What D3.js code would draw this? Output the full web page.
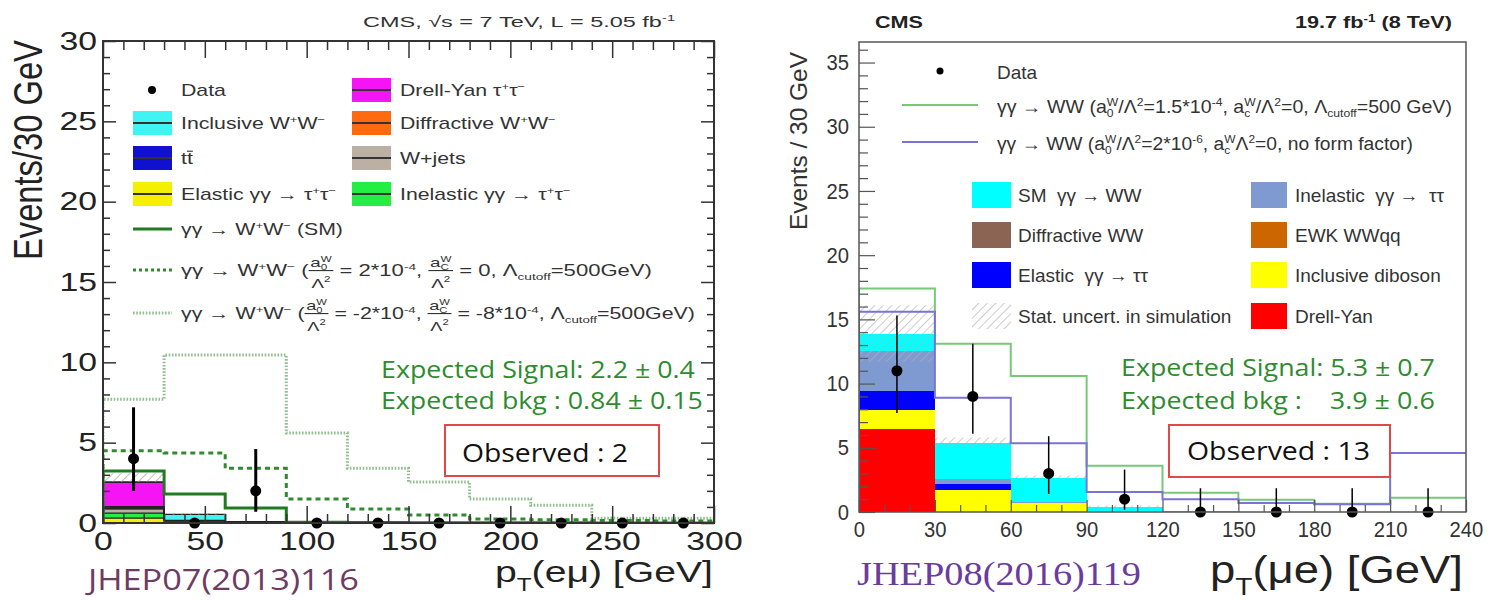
<!DOCTYPE html>
<html><head><meta charset="utf-8">
<script src="https://cdn.jsdelivr.net/npm/d3@7"></script>
<style>body{margin:0;background:#fff}svg{display:block}</style>
</head><body>
<svg id="c" width="1490" height="600"></svg>
<script>
// ================= DATA: left panel (JHEP07(2013)116) =================
const binsL = [0,30,60,90,120,150,180,210,240,270,300];
const xTicksL = [0,50,100,150,200,250,300];
const yTicksL = [0,5,10,15,20,25,30];
const elasticL   = [0.30,0,0,0,0,0,0,0,0,0];
const inelasticL = [0.32,0,0,0,0,0,0,0,0,0];
const wjetsL     = [0.26,0.12,0.04,0,0,0,0,0,0,0];
const diffWWL    = [0.02,0.01,0,0,0,0,0,0,0,0];
const ttbarL     = [0.12,0.03,0.03,0,0,0,0,0,0,0];
const drellYanL  = [1.53,0,0,0,0,0,0,0,0,0];
const inclWWL    = [0,0.38,0.02,0,0,0,0,0,0,0];
const uncLoL     = [2.55,0.50,null,null,null,null,null,null,null,null];
const uncHiL     = [3.10,0.62,null,null,null,null,null,null,null,null];
const smL        = [3.24,1.80,0.93,0.05,0.03,0.02,0.01,0.01,0,0];
const aqgc1L     = [4.50,4.35,3.40,1.50,0.87,0.50,0.25,0.20,0.15,0.12];
const aqgc2L     = [7.70,10.45,10.45,5.60,3.40,2.55,1.50,1.10,0.30,0.30];
const dataL      = [4,0,2,0,0,0,0,0,0,0];
const dataLoL    = [2.0,0,0.7,0,0,0,0,0,0,0];
const dataHiL    = [7.2,0,4.6,0,0,0,0,0,0,0];

// ================= DATA: right panel (JHEP08(2016)119) =================
const binsR = [0,30,60,90,120,150,180,210,240];
const xTicksR = [0,30,60,90,120,150,180,210,240];
const yTicksR = [0,5,10,15,20,25,30,35];
const drellYanR  = [6.45,0,0,0,0,0,0,0];
const dibosonR   = [1.50,1.70,0.68,0.05,0.02,0,0,0];
const elasticR   = [1.45,0.50,0.02,0,0,0,0,0];
const inelasticR = [3.10,0.35,0.05,0.02,0,0,0,0];
const ewkR       = [0,0.02,0.01,0,0,0,0,0];
const diffWWR    = [0.02,0.03,0.01,0,0,0,0,0];
const smR        = [1.38,2.80,1.90,0.33,0.08,0.03,0.02,0.01];
const uncLoR     = [11.7,5.0,2.45,0.28,null,null,null,null];
const uncHiR     = [16.1,5.8,2.85,0.50,null,null,null,null];
const aqgcFFR    = [17.4,13.1,10.6,3.6,1.5,0.95,0.65,1.1];
const aqgcNoFFR  = [15.6,8.9,5.35,1.55,1.0,0.7,0.6,4.6];
const dataR      = [11,9,3,1,0,0,0,0];
const dataLoR    = [7.7,6.1,1.4,0.17,0,0,0,0];
const dataHiR    = [15.3,13.1,5.9,3.3,1.85,1.85,1.85,1.85];

// ================= STYLE =================
const FONT = "'Liberation Sans', Arial, Helvetica, sans-serif";
const SLIDE = "'Open Sans', 'Noto Sans', sans-serif";
const SERIF = "'Liberation Serif', 'Times New Roman', serif";
const svg = d3.select('#c');

const xL = d3.scaleLinear().domain([0,300]).range([103,714]);
const yL = d3.scaleLinear().domain([0,30]).range([523,41]);
const xR = d3.scaleLinear().domain([0,240]).range([859,1466]);
const yR = d3.scaleLinear().domain([0,36.6]).range([512,42]);

const defs = svg.append('defs');
function hatch(id, color) {
  const p = defs.append('pattern').attr('id', id).attr('patternUnits','userSpaceOnUse')
    .attr('width',6).attr('height',6).attr('patternTransform','rotate(45)');
  p.append('line').attr('x1',0).attr('y1',0).attr('x2',0).attr('y2',6).attr('stroke',color).attr('stroke-width',1.3);
}
hatch('hatchL', '#9a9a9a');
hatch('hatchR', '#b0b0b0');
function clip(id, x, y) {
  defs.append('clipPath').attr('id', id).append('rect')
    .attr('x', x.range()[0]).attr('y', y.range()[1])
    .attr('width', x.range()[1]-x.range()[0]).attr('height', y.range()[0]-y.range()[1]);
}
clip('clipL', xL, yL); clip('clipR', xR, yR);

// ---------- rich text helper ----------
function put(c, str, x, y, size, o) {
  const t = c.append('text').attr('x', x).attr('y', y).attr('font-size', size)
    .attr('font-family', o.family || FONT).attr('font-weight', o.weight || 'normal')
    .attr('fill', o.fill || '#222').text(str.replace(/ /g, '\u00A0'));
  return t.node().getComputedTextLength();
}
function layout(c, parts, size, o) {
  let cx = 0;
  for (const p of parts) {
    if (typeof p === 'string') cx += put(c, p, cx, 0, size, o);
    else if (p.frac) {
      const fs = size * 0.85;
      const gn = c.append('g'), gd = c.append('g');
      const wn = layout(gn, p.frac[0], fs, o), wd = layout(gd, p.frac[1], fs, o);
      const W = Math.max(wn, wd) + size * 0.15;
      gn.attr('transform', `translate(${cx + (W - wn) / 2},${-size * 0.55})`);
      gd.attr('transform', `translate(${cx + (W - wd) / 2},${size * 0.72})`);
      c.append('line').attr('x1', cx).attr('x2', cx + W).attr('y1', -size * 0.34).attr('y2', -size * 0.34)
        .attr('stroke', o.fill || '#222').attr('stroke-width', size * 0.07);
      cx += W;
    } else if (p.over) {
      const w = put(c, p.over, cx, 0, size, o);
      c.append('line').attr('x1', cx).attr('x2', cx + w).attr('y1', -size * 0.8).attr('y2', -size * 0.8)
        .attr('stroke', o.fill || '#222').attr('stroke-width', size * 0.07);
      cx += w;
    } else {
      let w1 = 0, w2 = 0;
      if (p.sup != null) w1 = put(c, p.sup, cx, -size * 0.38, size * 0.62, o);
      if (p.sub != null) w2 = put(c, p.sub, cx, size * (o.subDy || 0.24), size * 0.62, o);
      cx += Math.max(w1, w2);
    }
  }
  return cx;
}
function rich(parent, parts, o) {
  const outer = parent.append('g');
  const inner = outer.append('g');
  const w = layout(inner, parts, o.size, o);
  const sx = o.fit ? o.fit / w : (o.sx || 1);
  const shift = o.anchor === 'end' ? -w : o.anchor === 'middle' ? -w / 2 : 0;
  inner.attr('transform', `translate(${shift},0)`);
  outer.attr('transform', o.rotate
    ? `translate(${o.x},${o.y}) scale(${o.sxScreen || 1},1) rotate(-90) scale(${sx},1)`
    : `translate(${o.x},${o.y}) scale(${sx},1)`);
  return outer;
}

// ---------- chart helpers ----------
function stepPath(x, y, edges, vals) {
  let d = `M${x(edges[0])},${y(0)}`;
  vals.forEach((v, i) => { d += `L${x(edges[i])},${y(v)}L${x(edges[i + 1])},${y(v)}`; });
  return d;
}
function drawStack(g, x, y, edges, layers, outline) {
  const n = edges.length - 1;
  const rows = d3.range(n).map(i => { const r = {}; layers.forEach(l => r[l.key] = l.values[i]); return r; });
  const series = d3.stack().keys(layers.map(l => l.key))(rows);
  series.forEach((s, li) => {
    const L = layers[li];
    g.selectAll(null).data(s.map((d, i) => ({ d, i })).filter(o => o.d[1] - o.d[0] > 0)).join('rect')
      .attr('x', o => x(edges[o.i])).attr('width', o => x(edges[o.i + 1]) - x(edges[o.i]))
      .attr('y', o => y(o.d[1])).attr('height', o => y(o.d[0]) - y(o.d[1]))
      .attr('fill', L.color).attr('shape-rendering', 'crispEdges');
  });
  if (outline) {
    series.forEach((s, li) => {
      const vals = layers[li].values;
      const last = vals.reduce((a, v, i) => v > 0 ? i : a, -1);
      if (last < 0) return;
      const tops = s.slice(0, last + 1).map(d => d[1]);
      g.append('path').attr('d', stepPath(x, y, edges.slice(0, last + 2), tops))
        .attr('fill', 'none').attr('stroke', outline).attr('stroke-width', 1.3);
    });
  }
}
function drawBand(g, x, y, edges, lo, hi, pat) {
  g.selectAll(null).data(lo.map((v, i) => ({ lo: v, hi: hi[i], i })).filter(d => d.lo != null)).join('rect')
    .attr('x', d => x(edges[d.i])).attr('width', d => x(edges[d.i + 1]) - x(edges[d.i]))
    .attr('y', d => y(d.hi)).attr('height', d => y(d.lo) - y(d.hi)).attr('fill', `url(#${pat})`);
}
function drawLine(g, x, y, edges, vals, stroke, sw, dash) {
  g.append('path').attr('d', stepPath(x, y, edges, vals)).attr('fill', 'none')
    .attr('stroke', stroke).attr('stroke-width', sw).attr('stroke-dasharray', dash || null);
}
function drawData(g, x, y, edges, vals, lo, hi, r, sw) {
  const pts = vals.map((v, i) => ({ c: (edges[i] + edges[i + 1]) / 2, v, lo: lo[i], hi: hi[i] }));
  g.selectAll(null).data(pts.filter(p => p.hi > p.lo)).join('line')
    .attr('x1', p => x(p.c)).attr('x2', p => x(p.c)).attr('y1', p => y(p.lo)).attr('y2', p => y(p.hi))
    .attr('stroke', '#000').attr('stroke-width', sw);
  g.selectAll(null).data(pts).join('circle')
    .attr('cx', p => x(p.c)).attr('cy', p => y(p.v)).attr('r', r).attr('fill', '#000');
}
function minorOf(lo, hi, step, major) { return d3.range(lo, hi + 1e-9, step).filter(v => !major.includes(v)); }
function styleAxis(sel, o) {
  sel.select('.domain').remove();
  sel.selectAll('line').attr('stroke', o.stroke).attr('stroke-width', o.sw);
  sel.selectAll('text').attr('font-family', FONT).attr('font-size', o.fs).attr('fill', o.fill)
    .attr('transform', o.sx ? `scale(${o.sx},1)` : null);
}

// ================= LEFT PANEL =================
const gL = svg.append('g');
const plotL = gL.append('g').attr('clip-path', 'url(#clipL)');
drawStack(plotL, xL, yL, binsL, [
  { key: 'el', values: elasticL, color: '#f4f000' },
  { key: 'inel', values: inelasticL, color: '#22ee44' },
  { key: 'wj', values: wjetsL, color: '#bcb0a4' },
  { key: 'diff', values: diffWWL, color: '#ff6a10' },
  { key: 'tt', values: ttbarL, color: '#1010d0' },
  { key: 'dy', values: drellYanL, color: '#f414f4' },
  { key: 'incl', values: inclWWL, color: '#40f4f4' }
], '#222');
drawBand(plotL, xL, yL, binsL, uncLoL, uncHiL, 'hatchL');
drawLine(plotL, xL, yL, binsL, aqgc2L, '#8fbf8f', 3, '1.6,1.6');
drawLine(plotL, xL, yL, binsL, aqgc1L, '#2e8b2e', 3, '5,4');
drawLine(plotL, xL, yL, binsL, smL, '#1e7b1e', 3);
drawData(gL, xL, yL, binsL, dataL, dataLoL, dataHiL, 5.5, 3);

const axL = { stroke: '#333', sw: 1.5, fs: 25, fill: '#222', sx: 1.35 };
styleAxis(gL.append('g').attr('transform', `translate(0,${yL(0)})`)
  .call(d3.axisBottom(xL).tickValues(xTicksL).tickSize(-17).tickPadding(9).tickFormat(d3.format('d'))), axL);
styleAxis(gL.append('g').attr('transform', `translate(0,${yL(0)})`)
  .call(d3.axisBottom(xL).tickValues(minorOf(0, 300, 10, xTicksL)).tickSize(-9).tickFormat(() => '')), axL);
styleAxis(gL.append('g').attr('transform', `translate(0,${yL(30)})`)
  .call(d3.axisTop(xL).tickValues(xTicksL).tickSize(-17).tickFormat(() => '')), axL);
styleAxis(gL.append('g').attr('transform', `translate(0,${yL(30)})`)
  .call(d3.axisTop(xL).tickValues(minorOf(0, 300, 10, xTicksL)).tickSize(-9).tickFormat(() => '')), axL);
styleAxis(gL.append('g').attr('transform', `translate(${xL(0)},0)`)
  .call(d3.axisLeft(yL).tickValues(yTicksL).tickSize(-13).tickPadding(4.4).tickFormat(d3.format('d'))), axL);
styleAxis(gL.append('g').attr('transform', `translate(${xL(0)},0)`)
  .call(d3.axisLeft(yL).tickValues(minorOf(0, 30, 1, yTicksL)).tickSize(-7).tickFormat(() => '')), axL);
styleAxis(gL.append('g').attr('transform', `translate(${xL(300)},0)`)
  .call(d3.axisRight(yL).tickValues(yTicksL).tickSize(-13).tickFormat(() => '')), axL);
styleAxis(gL.append('g').attr('transform', `translate(${xL(300)},0)`)
  .call(d3.axisRight(yL).tickValues(minorOf(0, 30, 1, yTicksL)).tickSize(-7).tickFormat(() => '')), axL);
gL.append('rect').attr('x', xL(0)).attr('y', yL(30)).attr('width', xL(300) - xL(0)).attr('height', yL(0) - yL(30))
  .attr('fill', 'none').attr('stroke', '#333').attr('stroke-width', 2);

// left titles
rich(gL, ['CMS, √s = 7 TeV, L = 5.05 fb', { sup: '-1' }], { x: 363, y: 27, size: 15, fit: 312, fill: '#333' });
rich(gL, ['Events/30 GeV'], { x: 42, y: 40, size: 32, fit: 220, anchor: 'end', rotate: true, sxScreen: 1.28, fill: '#222' });
rich(gL, ['p', { sub: 'T' }, '(eμ) [GeV]'], { x: 713, y: 582, size: 29, fit: 218, anchor: 'end', fill: '#222', subDy: 0.32 });

// left legend
const legBoxL = [
  { col: 0, y: 123, color: '#40f4f4', label: ['Inclusive W', { sup: '+' }, 'W', { sup: '−' }] },
  { col: 0, y: 158, color: '#1010d0', label: ['t', { over: 't' }] },
  { col: 0, y: 194, color: '#f4f000', label: ['Elastic γγ → τ', { sup: '+' }, 'τ', { sup: '−' }] },
  { col: 1, y: 90, color: '#f414f4', label: ['Drell-Yan τ', { sup: '+' }, 'τ', { sup: '−' }] },
  { col: 1, y: 123, color: '#ff6a10', label: ['Diffractive W', { sup: '+' }, 'W', { sup: '−' }] },
  { col: 1, y: 158, color: '#bcb0a4', label: ['W+jets'] },
  { col: 1, y: 194, color: '#22ee44', label: ['Inelastic γγ → τ', { sup: '+' }, 'τ', { sup: '−' }] }
];
const colXL = [133, 352], colTL = [181, 400];
legBoxL.forEach(e => {
  gL.append('rect').attr('x', colXL[e.col]).attr('y', e.y - 12).attr('width', 39).attr('height', 24).attr('fill', e.color);
  gL.append('line').attr('x1', colXL[e.col]).attr('x2', colXL[e.col] + 39).attr('y1', e.y).attr('y2', e.y)
    .attr('stroke', '#333').attr('stroke-width', 2);
  rich(gL, e.label, { x: colTL[e.col], y: e.y + 6, size: 16, sx: 1.33, fill: '#333' });
});
gL.append('circle').attr('cx', 152).attr('cy', 90).attr('r', 4).attr('fill', '#000');
rich(gL, ['Data'], { x: 181, y: 96, size: 16, sx: 1.33, fill: '#333' });
gL.append('line').attr('x1', 133).attr('x2', 172).attr('y1', 229).attr('y2', 229).attr('stroke', '#1e7b1e').attr('stroke-width', 3);
rich(gL, ['γγ → W', { sup: '+' }, 'W', { sup: '−' }, ' (SM)'], { x: 181, y: 235, size: 16, sx: 1.33, fill: '#333' });
gL.append('line').attr('x1', 133).attr('x2', 172).attr('y1', 270).attr('y2', 270).attr('stroke', '#2e8b2e').attr('stroke-width', 3).attr('stroke-dasharray', '3,3');
rich(gL, ['γγ → W', { sup: '+' }, 'W', { sup: '−' }, ' (', { frac: [['a', { sup: 'W', sub: '0' }], ['Λ', { sup: '2' }]] },
  ' = 2*10', { sup: '-4' }, ', ', { frac: [['a', { sup: 'W', sub: 'C' }], ['Λ', { sup: '2' }]] }, ' = 0, Λ', { sub: 'cutoff' }, '=500GeV)'],
  { x: 181, y: 276, size: 16, fit: 471, fill: '#333' });
gL.append('line').attr('x1', 133).attr('x2', 172).attr('y1', 313).attr('y2', 313).attr('stroke', '#8fbf8f').attr('stroke-width', 3).attr('stroke-dasharray', '1.6,1.6');
rich(gL, ['γγ → W', { sup: '+' }, 'W', { sup: '−' }, ' (', { frac: [['a', { sup: 'W', sub: '0' }], ['Λ', { sup: '2' }]] },
  ' = -2*10', { sup: '-4' }, ', ', { frac: [['a', { sup: 'W', sub: 'C' }], ['Λ', { sup: '2' }]] }, ' = -8*10', { sup: '-4' }, ', Λ', { sub: 'cutoff' }, '=500GeV)'],
  { x: 181, y: 319, size: 16, fit: 514, fill: '#333' });

// left annotations
rich(gL, ['Expected Signal: 2.2 ± 0.4'], { x: 381, y: 378, size: 23, family: SLIDE, fit: 314, fill: '#2e8b2e' });
rich(gL, ['Expected bkg : 0.84 ± 0.15'], { x: 381, y: 409, size: 23, family: SLIDE, fit: 322, fill: '#2e8b2e' });
gL.append('rect').attr('x', 445).attr('y', 425).attr('width', 214).attr('height', 51).attr('fill', '#fff')
  .attr('stroke', '#e34848').attr('stroke-width', 2);
rich(gL, ['Observed : 2'], { x: 462, y: 462, size: 26, family: SLIDE, fit: 166, fill: '#111' });
rich(gL, ['JHEP07(2013)116'], { x: 88, y: 590, size: 30, family: SLIDE, fit: 271, fill: '#6e3b63' });

// ================= RIGHT PANEL =================
const gR = svg.append('g');
const plotR = gR.append('g').attr('clip-path', 'url(#clipR)');
drawStack(plotR, xR, yR, binsR, [
  { key: 'dy', values: drellYanR, color: '#ff0000' },
  { key: 'dib', values: dibosonR, color: '#ffff00' },
  { key: 'el', values: elasticR, color: '#0000ff' },
  { key: 'inel', values: inelasticR, color: '#7f9ad0' },
  { key: 'ewk', values: ewkR, color: '#cc6600' },
  { key: 'diff', values: diffWWR, color: '#8c6454' },
  { key: 'sm', values: smR, color: '#00ffff' }
], null);
drawBand(plotR, xR, yR, binsR, uncLoR, uncHiR, 'hatchR');
drawLine(plotR, xR, yR, binsR, aqgcFFR, '#77c877', 2);
drawLine(plotR, xR, yR, binsR, aqgcNoFFR, '#7a72d6', 2);
drawData(gR, xR, yR, binsR, dataR, dataLoR, dataHiR, 5.5, 1.5);

const axR = { stroke: '#555', sw: 1.2, fs: 22, fill: '#333', sx: 0.92 };
styleAxis(gR.append('g').attr('transform', `translate(0,${yR(0)})`)
  .call(d3.axisBottom(xR).tickValues(xTicksR).tickSize(-12).tickPadding(9.4).tickFormat(d3.format('d'))), axR);
styleAxis(gR.append('g').attr('transform', `translate(0,${yR(0)})`)
  .call(d3.axisBottom(xR).tickValues(minorOf(0, 240, 10, xTicksR)).tickSize(-7).tickFormat(() => '')), axR);
styleAxis(gR.append('g').attr('transform', `translate(${xR(0)},0)`)
  .call(d3.axisLeft(yR).tickValues(yTicksR).tickSize(-16).tickPadding(10.8).tickFormat(d3.format('d'))), axR);
styleAxis(gR.append('g').attr('transform', `translate(${xR(0)},0)`)
  .call(d3.axisLeft(yR).tickValues(minorOf(0, 36, 1, yTicksR)).tickSize(-9).tickFormat(() => '')), axR);
gR.append('rect').attr('x', xR(0)).attr('y', yR(36.6)).attr('width', xR(240) - xR(0)).attr('height', yR(0) - yR(36.6))
  .attr('fill', 'none').attr('stroke', '#555').attr('stroke-width', 1.5);

rich(gR, ['CMS'], { x: 875, y: 28, size: 17, weight: 'bold', fit: 48, fill: '#222' });
rich(gR, ['19.7 fb', { sup: '-1' }, ' (8 TeV)'], { x: 1295, y: 28, size: 17, weight: 'bold', fit: 157, fill: '#222' });
rich(gR, ['Events / 30 GeV'], { x: 807, y: 52, size: 24, fit: 178, anchor: 'end', rotate: true, fill: '#333' });
rich(gR, ['p', { sub: 'T' }, '(μe) [GeV]'], { x: 1463, y: 583, size: 38, fit: 253, anchor: 'end', fill: '#222', subDy: 0.32 });

// right legend
gR.append('circle').attr('cx', 940).attr('cy', 71).attr('r', 3.5).attr('fill', '#000');
rich(gR, ['Data'], { x: 997, y: 79, size: 19, fill: '#333' });
gR.append('line').attr('x1', 902).attr('x2', 978).attr('y1', 105).attr('y2', 105).attr('stroke', '#77c877').attr('stroke-width', 2);
rich(gR, ['γγ → WW (a', { sup: 'W', sub: '0' }, '/Λ', { sup: '2' }, '=1.5*10', { sup: '-4' }, ', a', { sup: 'W', sub: 'c' }, '/Λ', { sup: '2' },
  '=0, Λ', { sub: 'cutoff' }, '=500 GeV)'], { x: 997, y: 113, size: 18, fit: 455, fill: '#333' });
gR.append('line').attr('x1', 902).attr('x2', 978).attr('y1', 142).attr('y2', 142).attr('stroke', '#7a72d6').attr('stroke-width', 2);
rich(gR, ['γγ → WW (a', { sup: 'W', sub: '0' }, '/Λ', { sup: '2' }, '=2*10', { sup: '-6' }, ', a', { sup: 'W', sub: 'c' }, 'Λ', { sup: '2' },
  '=0, no form factor)'], { x: 997, y: 150, size: 18, fit: 416, fill: '#333' });
const legBoxR = [
  { col: 0, y: 195, fill: '#00ffff', label: 'SM  γγ → WW' },
  { col: 0, y: 235, fill: '#8c6454', label: 'Diffractive WW' },
  { col: 0, y: 275, fill: '#0000ff', label: 'Elastic  γγ → ττ' },
  { col: 0, y: 316, fill: 'url(#hatchR)', label: 'Stat. uncert. in simulation' },
  { col: 1, y: 195, fill: '#7f9ad0', label: 'Inelastic  γγ →  ττ' },
  { col: 1, y: 235, fill: '#cc6600', label: 'EWK WWqq' },
  { col: 1, y: 275, fill: '#ffff00', label: 'Inclusive diboson' },
  { col: 1, y: 316, fill: '#ff0000', label: 'Drell-Yan' }
];
const colXR = [972, 1251], colWR = [39, 36], colTR = [1018, 1295];
legBoxR.forEach(e => {
  gR.append('rect').attr('x', colXR[e.col]).attr('y', e.y - 13).attr('width', colWR[e.col]).attr('height', 26).attr('fill', e.fill);
  rich(gR, [e.label], { x: colTR[e.col], y: e.y + 7, size: 19, fill: '#333' });
});

// right annotations
rich(gR, ['Expected Signal: 5.3 ± 0.7'], { x: 1121, y: 376, size: 23, family: SLIDE, fit: 314, fill: '#2e8b2e' });
rich(gR, ['Expected bkg :    3.9 ± 0.6'], { x: 1121, y: 409, size: 23, family: SLIDE, fit: 314, fill: '#2e8b2e' });
gR.append('rect').attr('x', 1169).attr('y', 425).attr('width', 221).attr('height', 52).attr('fill', '#fff')
  .attr('stroke', '#e34848').attr('stroke-width', 2);
rich(gR, ['Observed : 13'], { x: 1187, y: 460, size: 26, family: SLIDE, fit: 183, fill: '#111' });
rich(gR, ['JHEP08(2016)119'], { x: 857, y: 585, size: 34, family: SERIF, fit: 284, fill: '#6a3c9e' });
</script>
</body></html>
